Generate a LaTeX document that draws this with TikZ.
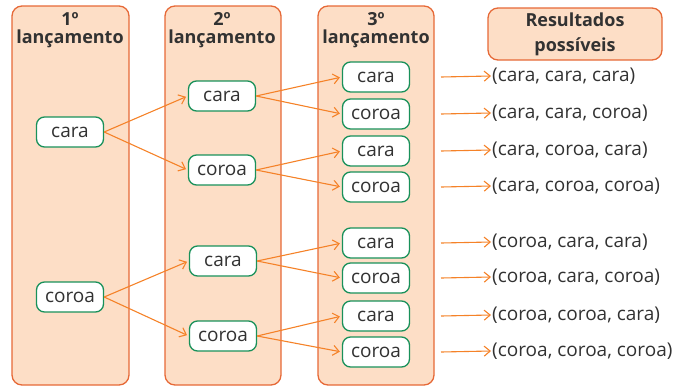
\documentclass[tikz,border=0pt]{standalone}
\usepackage{fontspec}
\setmainfont{Open Sans}
\usetikzlibrary{arrows.meta}
\definecolor{colfill}{RGB}{253,222,198}
\definecolor{coledge}{RGB}{230,105,55}
\definecolor{leafedge}{RGB}{25,145,90}
\definecolor{arrowcol}{RGB}{245,130,40}
\definecolor{textcol}{RGB}{50,50,50}

\begin{document}
\begin{tikzpicture}[x=1pt, y=-1pt, text=textcol,
	font=\fontsize{19}{21}\selectfont,
	colbox/.style={draw=coledge, fill=colfill, line width=1.3pt, rounded corners=10pt},
	face/.style={draw=leafedge, fill=white, line width=1.3pt, rounded corners=8pt,
			minimum width=67pt, minimum height=30pt, inner sep=0pt},
	branch/.style={arrowcol, line width=1.1pt, -{Straight Barb[length=6pt,width=10pt]}},
	title/.style={font=\fontsize{18}{17.5}\selectfont\bfseries, align=center},
	restext/.style={anchor=west, inner sep=1pt}]

	\useasboundingbox (0,0) rectangle (687,386);

	% =============================================
	%  COLUMNS
	% =============================================

	\draw[colbox] (12,6) rectangle (129,385);
	\draw[colbox] (165,6) rectangle (281,385);
	\draw[colbox] (318,6) rectangle (434,385);

	\node[title] (head1) at (70,30) {1º\\lançamento};
	\node[title] (head2) at (222,30) {2º\\lançamento};
	\node[title] (head3) at (376,30) {3º\\lançamento};

	\node[title, font=\fontsize{18}{25}\selectfont\bfseries, draw=coledge, fill=colfill,
		line width=1.3pt, rounded corners=10pt, minimum width=174pt, minimum height=52pt]
	(headres) at (575,34) {Resultados\\possíveis};

	% =============================================
	%  TREE NODES
	% =============================================

	% 1st toss
	\node[face] (L1-1) at (70,132) {cara};
	\node[face] (L1-2) at (70,297) {coroa};

	% 2nd toss
	\node[face] (L2-1) at (222,96) {cara};
	\node[face] (L2-2) at (222,170) {coroa};
	\node[face] (L2-3) at (223,261) {cara};
	\node[face] (L2-4) at (223,336) {coroa};

	% 3rd toss + outcomes
	\foreach \n/\y/\lab/\res in {
			1/77/cara/{(cara, cara, cara)},
			2/114/coroa/{(cara, cara, coroa)},
			3/151/cara/{(cara, coroa, cara)},
			4/187/coroa/{(cara, coroa, coroa)},
			5/243/cara/{(coroa, cara, cara)},
			6/278/coroa/{(coroa, cara, coroa)},
			7/316/cara/{(coroa, coroa, cara)},
			8/352/coroa/{(coroa, coroa, coroa)}} {
			\node[face] (L3-\n) at (376,\y) {\lab};
			\coordinate (S\n) at (441,\y);
			\node[restext] (R\n) at (491,\y-1) {\res};
			\draw[branch] (S\n) -- (R\n.west);
		}

	% =============================================
	%  BRANCHES
	% =============================================

	\foreach \a/\b in {1-1/2-1, 1-1/2-2, 1-2/2-3, 1-2/2-4,
			2-1/3-1, 2-1/3-2, 2-2/3-3, 2-2/3-4,
			2-3/3-5, 2-3/3-6, 2-4/3-7, 2-4/3-8} {
			\draw[branch, shorten >=2pt] (L\a.east) -- (L\b.west);
		}

\end{tikzpicture}
\end{document}
